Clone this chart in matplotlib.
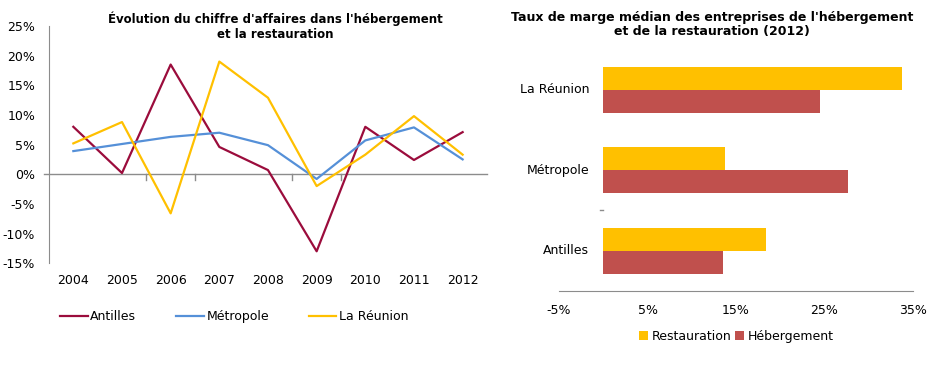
import matplotlib.pyplot as plt
import numpy as np
from matplotlib.ticker import FuncFormatter

# Left chart: change in turnover (%)
years = ["2004", "2005", "2006", "2007", "2008", "2009", "2010", "2011", "2012"]
antilles = [8.0, 0.2, 18.5, 4.6, 0.7, -13.0, 8.0, 2.4, 7.1]
metropole = [3.9, 5.1, 6.3, 7.0, 4.9, -0.8, 5.7, 7.9, 2.5]
reunion = [5.2, 8.8, -6.6, 19.0, 12.9, -2.0, 3.3, 9.8, 3.3]

# Right chart: median margin rate 2012 (%)
regions = ["Antilles", "Métropole", "La Réunion"]
restauration = [18.4, 13.8, 33.8]
hebergement = [13.5, 27.6, 24.5]

RED = "#9B0C3C"
BLUE = "#5590D8"
GOLD = "#FFC000"
BRICK = "#C0504D"
GREY = "#8C8C8C"

plt.rcParams["font.family"] = ["DejaVu Sans"]

fig = plt.figure(figsize=(9.37, 3.77), dpi=100)
W, H = 937, 377

# ---- left: line chart ----
ax1 = fig.add_axes([0.0523, 0.302, 0.4674, 0.629])
x = np.arange(len(years))
ax1.plot(x, antilles, color=RED, lw=1.6, label="Antilles")
ax1.plot(x, metropole, color=BLUE, lw=1.6, label="Métropole")
ax1.plot(x, reunion, color=GOLD, lw=1.6, label="La Réunion")
ax1.set_xlim(-0.5, len(years) - 0.5)
ax1.set_ylim(-15, 25)
ax1.set_yticks(np.arange(-15, 26, 5))
ax1.yaxis.set_major_formatter(FuncFormatter(lambda v, p: f"{v:.0f}%"))
ax1.tick_params(axis="y", length=0, labelsize=9, pad=10)
ax1.set_xticks([])
for s in ["top", "right", "bottom"]:
    ax1.spines[s].set_visible(False)
ax1.spines["left"].set_color(GREY)
ax1.axhline(0, color=GREY, lw=1, xmin=-0.012, clip_on=False, zorder=0)
for b in [1.5, 2.5, 4.5, 5.5]:
    ax1.plot([b, b], [0, -0.9], color=GREY, lw=1, clip_on=False, zorder=0)
for i, yr in enumerate(years):
    ax1.annotate(yr, (i, -15), xytext=(0, -12.5), textcoords="offset points",
                 ha="center", va="center", fontsize=9)
fig.text(275 / W, 1 - 26 / H,
         "Évolution du chiffre d'affaires dans l'hébergement\net la restauration",
         ha="center", va="center", fontsize=8.5, fontweight="bold", linespacing=1.15)
ax1.legend(loc="upper left", bbox_to_anchor=(0.0, -0.15), ncol=3, frameon=False,
           fontsize=9, handlelength=2.2, handletextpad=0.2, columnspacing=3.2)

# ---- right: horizontal bar chart ----
ax2 = fig.add_axes([0.5966, 0.228, 0.3778, 0.641])
y = np.arange(len(regions))
h = 0.285
ax2.barh(y + h / 2, restauration, height=h, color=GOLD, label="Restauration")
ax2.barh(y - h / 2, hebergement, height=h, color=BRICK, label="Hébergement")
ax2.set_xlim(-5, 35)
ax2.set_ylim(-0.5, 2.5)
ax2.set_xticks(np.arange(-5, 36, 10))
ax2.xaxis.set_major_formatter(FuncFormatter(lambda v, p: f"{v:.0f}%"))
ax2.tick_params(axis="x", length=0, labelsize=9, pad=9)
ax2.set_xticks([25], minor=True)
ax2.tick_params(axis="x", which="minor", length=3, color=GREY)
ax2.set_yticks([])
for i, r in enumerate(regions):
    ax2.annotate(r, (0, i), xytext=(-10, 0), textcoords="offset points",
                 ha="right", va="center", fontsize=9)
for s in ["top", "right", "left"]:
    ax2.spines[s].set_visible(False)
ax2.spines["bottom"].set_color(GREY)
ax2.plot([-0.4, 0], [0.5, 0.5], color=GREY, lw=1, clip_on=False)
fig.text(712 / W, 1 - 24 / H,
         "Taux de marge médian des entreprises de l'hébergement\net de la restauration (2012)",
         ha="center", va="center", fontsize=9, fontweight="bold", linespacing=1.1)
ax2.legend(loc="upper center", bbox_to_anchor=(0.5, -0.115), ncol=2, frameon=False,
           fontsize=9, handlelength=0.7, handleheight=0.7, handletextpad=0.3,
           columnspacing=0.3)

fig.savefig("out.png", dpi=100)
